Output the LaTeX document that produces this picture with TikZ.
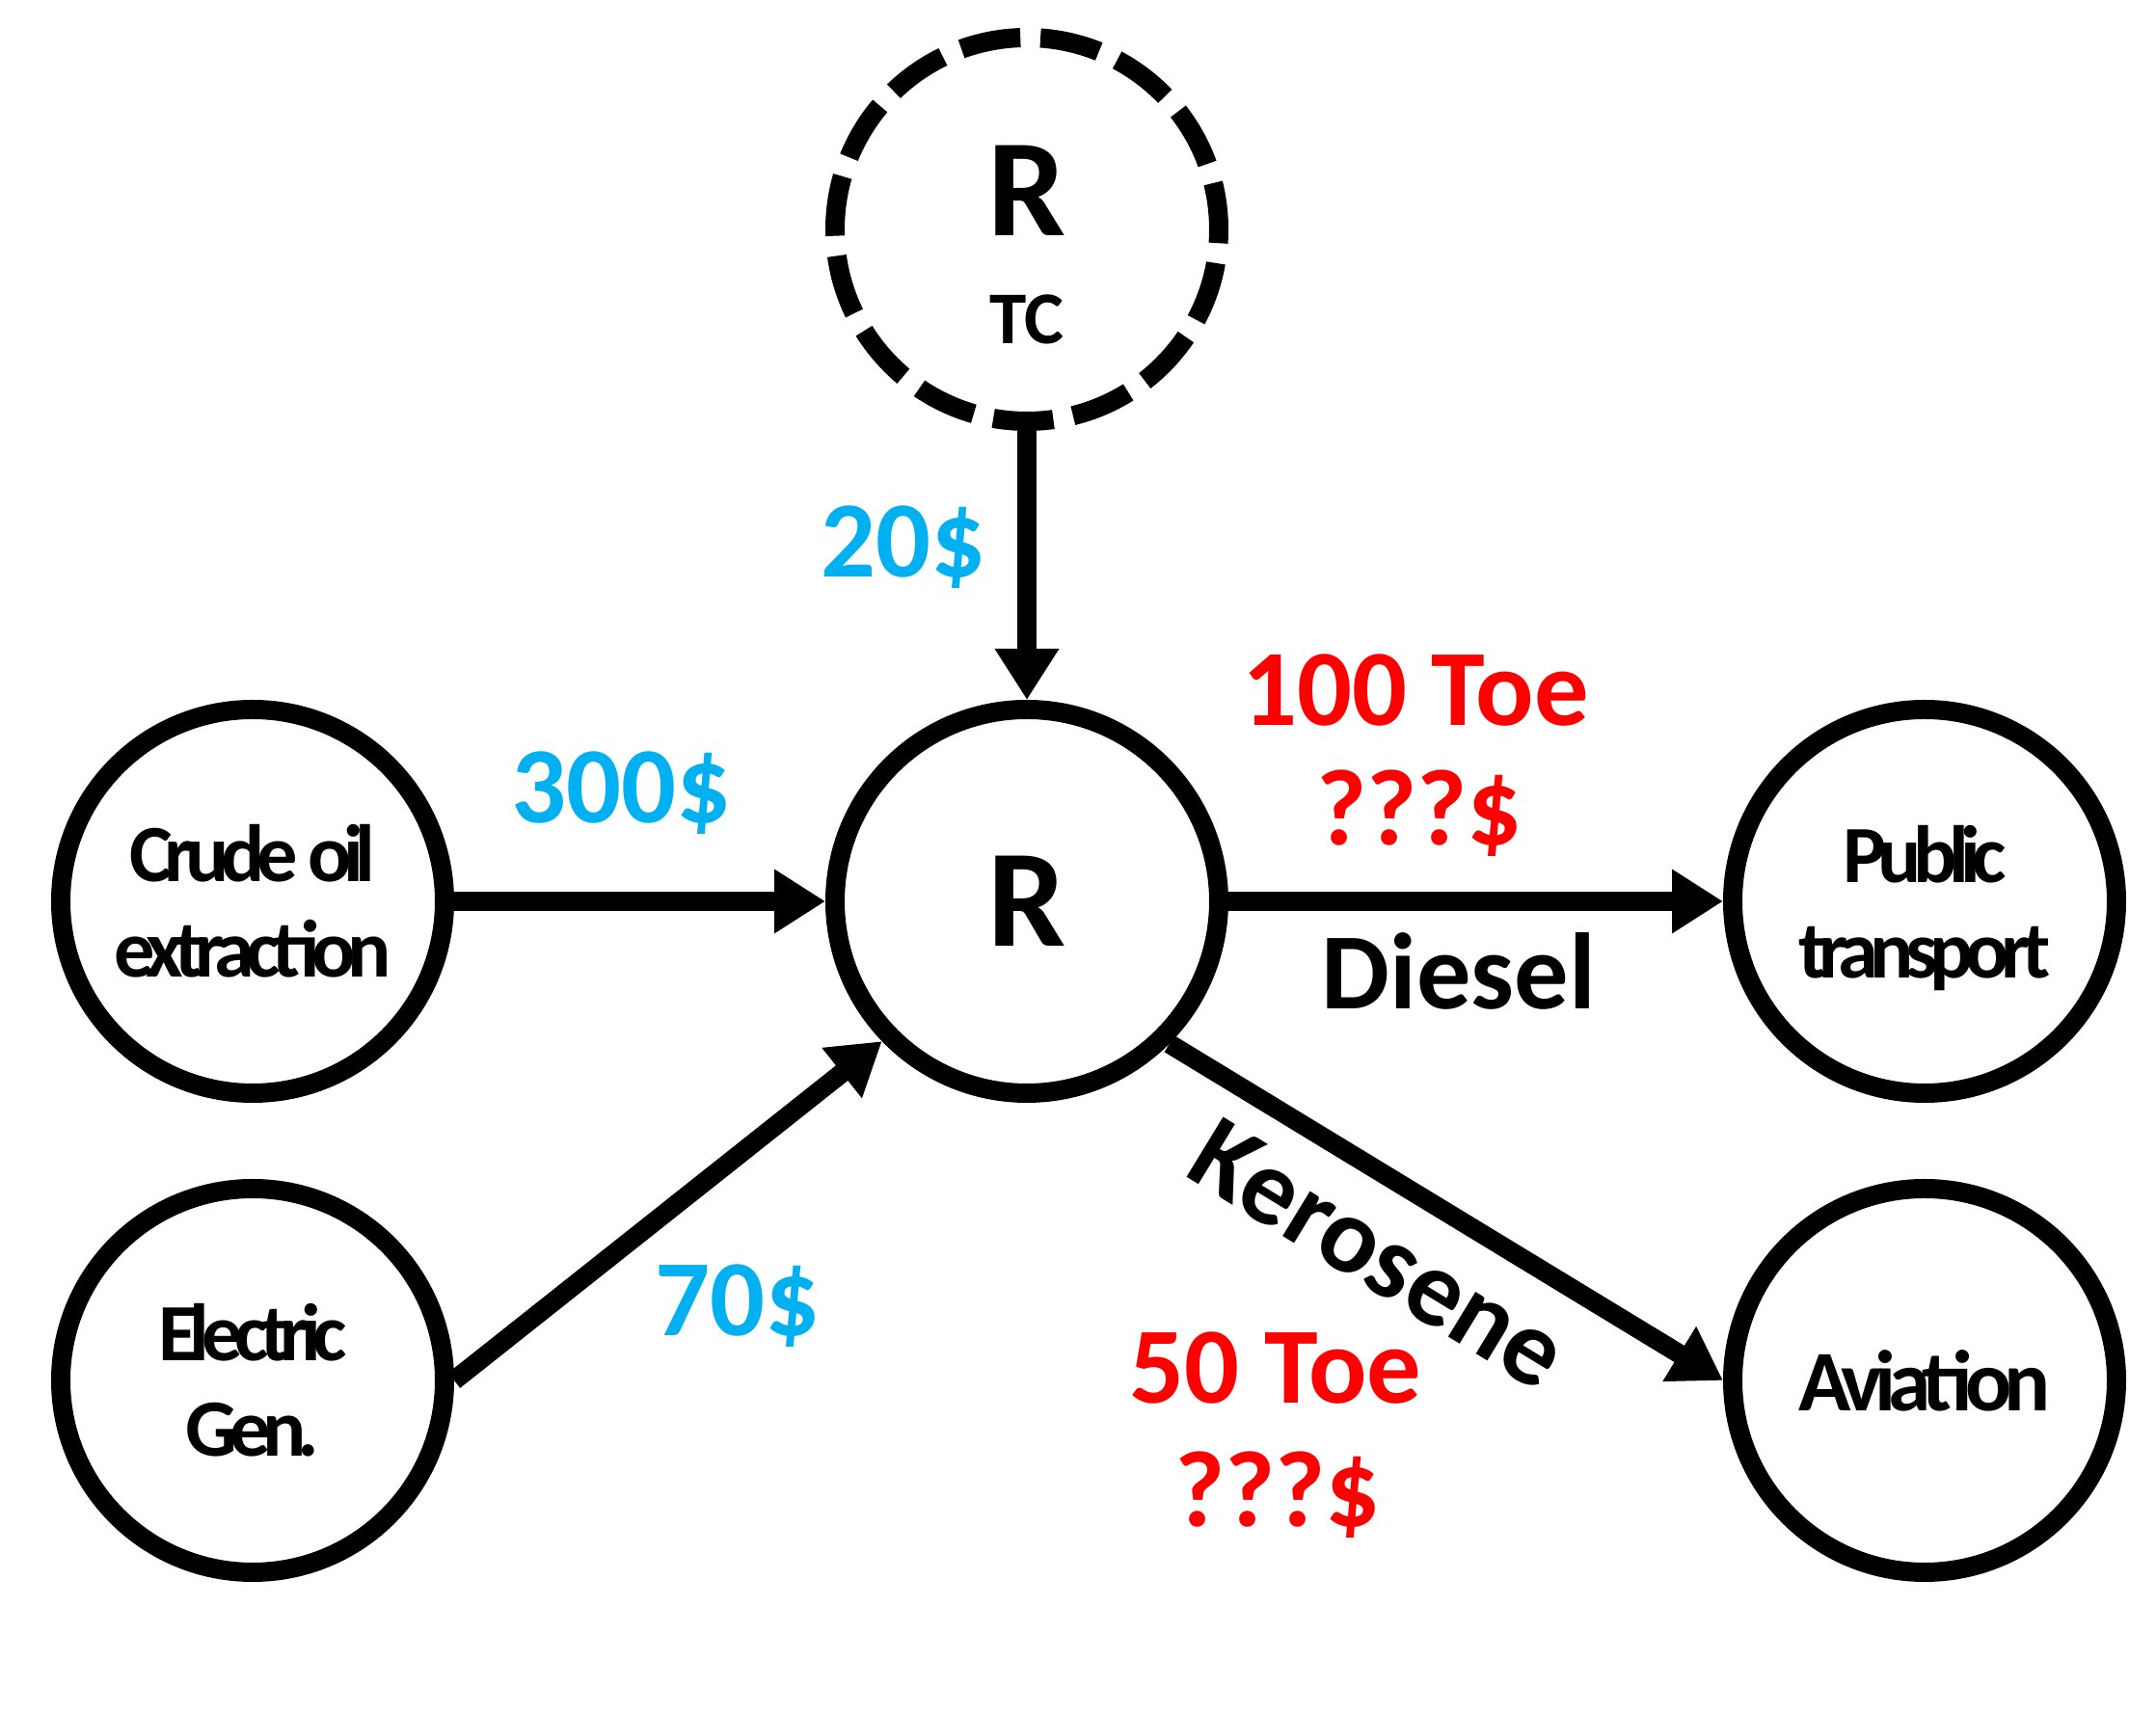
\documentclass[tikz,border=0pt]{standalone}
\usepackage{fontspec}
\setmainfont{Carlito}
\usetikzlibrary{arrows.meta}
\definecolor{cblue}{HTML}{00B0F0}
\definecolor{cred}{HTML}{FF0000}
\begin{document}
\begin{tikzpicture}[
  blob/.style={circle, draw=black, line width=0.2cm, minimum size=3.98cm, inner sep=0pt, align=center,
    font={\bfseries\addfontfeature{LetterSpace=-10}\fontsize{24}{28.2}\selectfont}},
  dashblob/.style={blob, dash pattern=on 0.625cm off 0.2085cm, dash phase=0.14cm},
  flow/.style={line width=0.2cm, -{Triangle[length=0.53cm,width=0.63cm]}},
  bluelab/.style={text=cblue, font={\bfseries\fontsize{32}{38}\selectfont}, inner sep=0pt},
  redlab/.style={text=cred, font={\bfseries\fontsize{32}{38}\selectfont}, inner sep=0pt},
  blacklab/.style={text=black, font={\bfseries\fontsize{32}{38}\selectfont}, inner sep=0pt},
  bigR/.style={font={\bfseries\fontsize{41}{48}\selectfont}, inner sep=0pt}
]
\useasboundingbox (0,0) rectangle (22.36,17.78);
\node[dashblob] (tc) at (10.65,15.40) {};
\node[bigR] (tcR) at ([yshift=0.40cm]tc.center) {R};
\node[font={\bfseries\fontsize{22}{26}\selectfont}, inner sep=0pt] (tcT) at ([yshift=-0.935cm]tc.center) {TC};
\node[blob, font={\bfseries\fontsize{41}{48}\selectfont}] (r) at (10.65,8.43) {R};
\node[blob] (crude) at (2.62,8.43) {Crude oil\\extraction};
\node[blob] (gen) at (2.62,3.46) {Electric\\Gen.};
\node[blob] (pub) at (19.96,8.43) {Public\\\smash{transport}};
\node[blob, font={\bfseries\addfontfeature{LetterSpace=-9}\fontsize{25.5}{30}\selectfont}] (avi) at (19.96,3.46) {Aviation};

\draw[flow] (tc.south) -- (r.north);
\draw[flow] (crude.east) -- (r.west);
\draw[flow] (r.east) -- (pub.west);
\draw[flow] (gen.east) -- (r.224);
\draw[flow] (r.-45) -- (avi.west);

\node[bluelab] (l20) at (9.37,12.10) {20\$};
\node[bluelab] (l300) at (6.44,9.55) {300\$};
\node[bluelab] (l70) at (7.65,4.23) {70\$};
\node[redlab] (l100) at (14.68,10.62) {100 Toe};
\node[redlab] (lq1) at (14.72,9.34) {???\$};
\node[blacklab] (diesel) at (15.13,7.71) {Diesel};
\node[blacklab, rotate=-31.4] (kero) at (14.30,4.77) {Kerosene};
\node[redlab] (l50) at (13.23,3.59) {50 Toe};
\node[redlab] (lq2) at (13.25,2.27) {???\$};
\end{tikzpicture}
\end{document}
